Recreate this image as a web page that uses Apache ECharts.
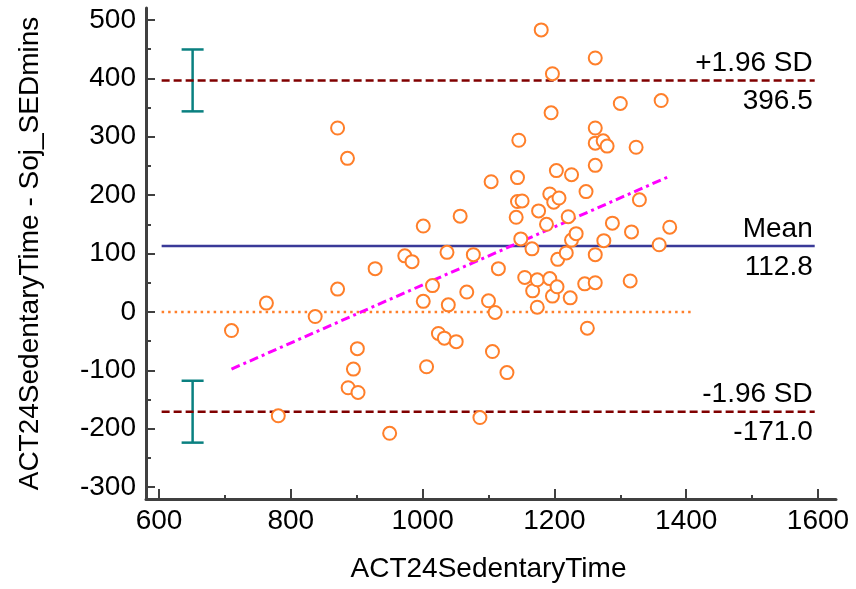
<!DOCTYPE html>
<html>
<head>
<meta charset="utf-8">
<script src="https://cdn.jsdelivr.net/npm/echarts@6/dist/echarts.min.js"></script>
<style>
  html, body { margin: 0; padding: 0; background: #fff; }
  #main { width: 856px; height: 589px; }
</style>
</head>
<body>
<div id="main"></div>
<script>
// [mean of methods, difference]
const points = [
  [710, -32], [763, 15], [781, -178], [837, -8], [871, 315], [886, 263],
  [871, 39], [887, -130], [895, -98], [901, -63], [902, -138], [928, 74],
  [950, -208], [973, 96], [984, 86], [1001, 147], [1001, 18], [1006, -94],
  [1015, 45], [1024, -37], [1033, -45], [1039, 12], [1037, 102], [1051, -51],
  [1057, 164], [1067, 34], [1077, 98], [1087, -181], [1100, 19], [1104, 223],
  [1106, -68], [1110, -1], [1115, 74], [1128, -104], [1142, 162], [1144, 230],
  [1144, 189], [1151, 190], [1146, 294], [1149, 125], [1155, 59], [1166, 108],
  [1167, 36], [1174, 55], [1174, 8], [1176, 173], [1180, 483], [1188, 150],
  [1193, 202], [1193, 57], [1195, 341], [1197, 408], [1197, 27], [1199, 188],
  [1203, 242], [1204, 43], [1205, 90], [1207, 195], [1218, 101], [1221, 163],
  [1224, 24], [1226, 235], [1226, 123], [1233, 134], [1246, 48], [1248, 206],
  [1250, -28], [1262, 435], [1262, 315], [1262, 289], [1262, 251], [1262, 98],
  [1262, 50], [1274, 293], [1275, 122], [1280, 284], [1288, 152], [1300, 357],
  [1315, 53], [1317, 137], [1324, 282], [1329, 192], [1359, 115], [1362, 362],
  [1375, 145]
];

const limitNames = ['+1.96 SD', 'Mean', '-1.96 SD'];
const limitValues = [396.5, 112.8, -171.0];
const limitSpan = [604, 1595];
const zeroSpan = [604, 1410];

// regression of difference on mean
const regression = [[710, -98], [1374, 232]];

// 95% CI of the limits of agreement: [x, low, high]
const ciBars = [[651, 343.5, 449.5], [651, -224.0, -118.0]];

const xTicks = { min: 600, max: 1600, step: 200 };
const yTicks = { min: -300, max: 500, step: 100 };

const font = "'Liberation Sans', Arial, sans-serif";
const textColor = '#000';
const axisColor = '#404040';
const orange = '#ff7f2a';

const chart = echarts.init(document.getElementById('main'), null, { renderer: 'canvas' });

const hLine = (x0, x1, y) => [[x0, y], [x1, y]];

const labelData = [];
limitNames.forEach(function (name, i) {
  labelData.push({ value: [limitSpan[1] - 3, limitValues[i]],
    label: { formatter: name, verticalAlign: 'bottom', position: [0, -3] } });
  labelData.push({ value: [limitSpan[1] - 3, limitValues[i]],
    label: { formatter: limitValues[i].toFixed(1), verticalAlign: 'top', position: [0, 7] } });
});

const option = {
  animation: false,
  backgroundColor: '#fff',
  textStyle: { fontFamily: font, color: textColor },
  grid: [
    { left: 159, right: 38, top: 20, bottom: 102 },
    // frame grid: only draws the longer axis lines
    { left: 146, right: 20, top: 8, bottom: 90 }
  ],
  xAxis: [{
    type: 'value',
    gridIndex: 0,
    min: xTicks.min, max: xTicks.max, interval: xTicks.step,
    offset: 12,
    name: 'ACT24SedentaryTime',
    nameLocation: 'middle',
    nameGap: 56,
    nameTextStyle: { fontSize: 28, color: textColor, fontFamily: font },
    axisLine: { show: false, onZero: false },
    axisTick: { show: true, inside: true, length: 10, lineStyle: { color: axisColor, width: 2 } },
    minorTick: { show: true, splitNumber: 2, length: 4, lineStyle: { color: axisColor, width: 2 } },
    axisLabel: { fontSize: 28, color: textColor, fontFamily: font, margin: 8,
      formatter: function (v) { return String(v); } },
    splitLine: { show: false }
  }, {
    type: 'value', gridIndex: 1, min: 0, max: 1,
    axisLine: { show: true, onZero: false, lineStyle: { color: axisColor, width: 3 } },
    axisTick: { show: false }, axisLabel: { show: false }, splitLine: { show: false }
  }],
  yAxis: [{
    type: 'value',
    gridIndex: 0,
    min: yTicks.min, max: yTicks.max, interval: yTicks.step,
    offset: 13,
    name: 'ACT24SedentaryTime - Soj_SEDmins',
    nameLocation: 'middle',
    nameGap: 102,
    nameTextStyle: { fontSize: 28, color: textColor, fontFamily: font },
    axisLine: { show: false, onZero: false },
    axisTick: { show: true, inside: true, length: 9, lineStyle: { color: axisColor, width: 2 } },
    minorTick: { show: true, splitNumber: 2, length: 5, lineStyle: { color: axisColor, width: 2 } },
    axisLabel: { fontSize: 28, color: textColor, fontFamily: font, margin: 10,
      formatter: function (v) { return String(v); } },
    splitLine: { show: false }
  }, {
    type: 'value', gridIndex: 1, min: 0, max: 1,
    axisLine: { show: true, onZero: false, lineStyle: { color: axisColor, width: 3 } },
    axisTick: { show: false }, axisLabel: { show: false }, splitLine: { show: false }
  }],
  series: [
    {
      name: 'zero',
      type: 'line',
      data: hLine(zeroSpan[0], zeroSpan[1], 0),
      symbol: 'none',
      lineStyle: { color: orange, width: 2.5, type: [2.5, 4] }
    },
    {
      name: 'mean',
      type: 'line',
      data: hLine(limitSpan[0], limitSpan[1], limitValues[1]),
      symbol: 'none',
      lineStyle: { color: '#3a3a98', width: 2.5 }
    },
    {
      name: 'upper',
      type: 'line',
      data: hLine(limitSpan[0], limitSpan[1], limitValues[0]),
      symbol: 'none',
      lineStyle: { color: '#800000', width: 2.5, type: [8, 4] }
    },
    {
      name: 'lower',
      type: 'line',
      data: hLine(limitSpan[0], limitSpan[1], limitValues[2]),
      symbol: 'none',
      lineStyle: { color: '#800000', width: 2.5, type: [8, 4] }
    },
    {
      name: 'regression',
      type: 'line',
      data: regression,
      symbol: 'none',
      lineStyle: { color: '#ff00ff', width: 3, type: [9, 4, 3, 4] }
    },
    {
      name: 'ci',
      type: 'custom',
      data: ciBars,
      renderItem: function (params, api) {
        const x = api.value(0);
        const lo = api.coord([x, api.value(1)]);
        const hi = api.coord([x, api.value(2)]);
        const w = 11;
        const style = { stroke: '#0a8080', lineWidth: 2.5 };
        return {
          type: 'group',
          children: [
            { type: 'line', shape: { x1: lo[0], y1: lo[1], x2: hi[0], y2: hi[1] }, style: style },
            { type: 'line', shape: { x1: hi[0] - w, y1: hi[1], x2: hi[0] + w, y2: hi[1] }, style: style },
            { type: 'line', shape: { x1: lo[0] - w, y1: lo[1], x2: lo[0] + w, y2: lo[1] }, style: style }
          ]
        };
      }
    },
    {
      name: 'points',
      type: 'scatter',
      data: points,
      symbol: 'emptyCircle',
      symbolSize: 13,
      itemStyle: { color: orange, borderWidth: 1.8, opacity: 1 },
      z: 5
    },
    {
      name: 'labels',
      type: 'scatter',
      data: labelData,
      symbolSize: 0,
      silent: true,
      itemStyle: { opacity: 1 },
      label: {
        show: true,
        align: 'right',
        fontSize: 28,
        color: textColor,
        textBorderWidth: 0,
        fontFamily: font
      }
    }
  ]
};

chart.setOption(option);
</script>
</body>
</html>
